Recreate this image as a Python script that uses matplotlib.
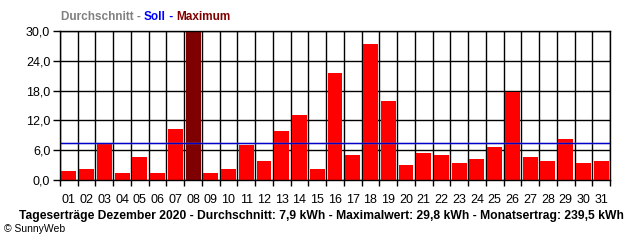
import matplotlib
matplotlib.use("Agg")
import matplotlib.pyplot as plt
import numpy as np

days = ["01","02","03","04","05","06","07","08","09","10","11","12","13","14","15","16",
        "17","18","19","20","21","22","23","24","25","26","27","28","29","30","31"]
values = [1.8, 2.2, 7.4, 1.4, 4.6, 1.4, 10.2, 29.8, 1.4, 2.2, 7.0, 3.8, 9.8, 13.0, 2.2, 21.6,
          5.0, 27.4, 15.9, 3.0, 5.4, 5.0, 3.4, 4.2, 6.6, 17.8, 4.6, 3.8, 8.2, 3.4, 3.8]
avg_line = 7.55
soll_line = 7.35
y_ticks = [0, 6, 12, 18, 24, 30]
y_tick_labels = ["0,0", "6,0", "12,0", "18,0", "24,0", "30,0"]
footer = "Tageserträge Dezember 2020 - Durchschnitt: 7,9 kWh - Maximalwert: 29,8 kWh - Monatsertrag: 239,5 kWh"

plt.rcParams['font.family'] = ['Liberation Sans', 'DejaVu Sans']

fig = plt.figure(figsize=(6.4, 2.4), dpi=100)
ax = fig.add_axes([60/640, 60/240, 550/640, 149/240])

x = np.arange(1, len(values) + 1)
vmax = max(values)
colors = ["#7f0000" if v == vmax else "#ff0000" for v in values]
ax.bar(x, values, width=0.84, color=colors, zorder=3, linewidth=0)

ax.set_xlim(0.5, len(values) + 0.5)
ax.set_ylim(0, 30)

for yv in y_ticks:
    ax.axhline(yv, color="black", lw=1.0, zorder=1)
for b in np.arange(0.5, len(values) + 1, 1.0):
    ax.axvline(b, color="black", lw=1.0, zorder=2)

ax.axhline(avg_line, color="#a0a0a0", lw=1.0, zorder=5)
ax.axhline(soll_line, color="#0000cc", lw=1.0, zorder=5)

ax.set_yticks(y_ticks)
ax.set_yticklabels(y_tick_labels, fontsize=9)
ax.set_xticks(x)
ax.set_xticklabels(days, fontsize=9)
ax.tick_params(axis='x', which='major', length=0, pad=10)
ax.set_xticks(np.arange(0.5, len(values) + 1, 1.0), minor=True)
ax.tick_params(axis='x', which='minor', length=4, width=1, direction='out')
ax.tick_params(axis='y', length=5, width=1, direction='out', pad=2)

for s in ax.spines.values():
    s.set_color("black")
    s.set_linewidth(1.0)
    s.set_zorder(6)

from matplotlib.offsetbox import TextArea, HPacker, AnchoredOffsetbox
parts = [("Durchschnitt - ", "#808080"), ("Soll", "#0000ff"), (" - ", "#0000ff"), ("Maximum", "#800000")]
boxes = [TextArea(t, textprops=dict(color=c, fontsize=8.5, fontweight='bold')) for t, c in parts]
pack = HPacker(children=boxes, align="baseline", pad=0, sep=0)
ab = AnchoredOffsetbox(loc='center left', child=pack, pad=0, frameon=False,
                       bbox_to_anchor=(61/640, 1 - 17/240), bbox_transform=fig.transFigure, borderpad=0)
fig.add_artist(ab)

fig.text(321/640, 1 - 216/240, footer, ha='center', va='center', fontsize=8.7, fontweight='bold')
fig.text(4/640, 1 - 229/240, "© SunnyWeb", ha='left', va='center', fontsize=7.5)

fig.savefig("out.png", dpi=100, facecolor="white")
